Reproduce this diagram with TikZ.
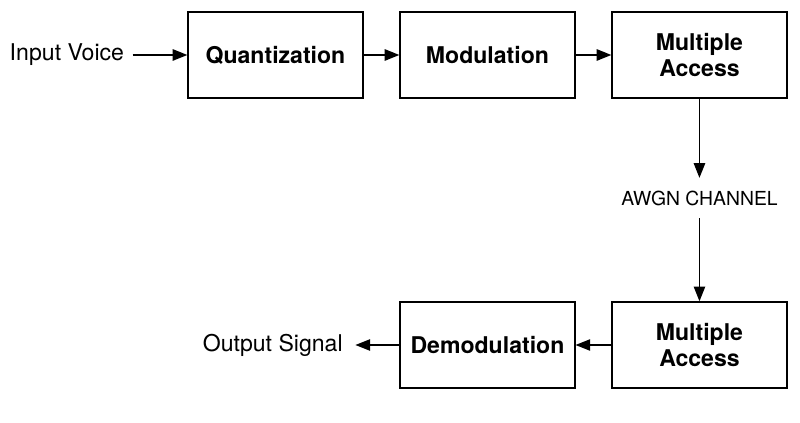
\documentclass[tikz,border=0pt]{standalone}
\usepackage{fontspec}
\setmainfont{TeX Gyre Heros}
\usetikzlibrary{positioning,arrows.meta}

\begin{document}
\begin{tikzpicture}[->,>={Triangle[length=11pt,width=8.5pt]},line width=1.1pt,node distance=159pt,
        block/.style={draw,minimum width=131pt,minimum height=64.5pt,align=center,
            font=\fontsize{17.3}{20}\selectfont\bfseries},
        txt/.style={inner sep=0pt,font=\fontsize{17.3}{20}\selectfont}]
        \useasboundingbox (-206.6pt,41.25pt) rectangle (393.4pt,-276pt);

        \node[block] (quant) {Quantization};
        \node[block] (mod) [right of=quant] {Modulation};
        \node[block] (ma1) [right of=mod] {Multiple\\Access};
        \node[block] (ma2) [below of=ma1,yshift=-58.5pt] {Multiple\\Access};
        \node[block] (demod) [left of=ma2] {Demodulation};
        \node[txt] (in) [left=47pt of quant] {Input Voice};
        \node[txt] (out) [left=42pt of demod] {Output Signal};
        \node[txt,inner sep=9pt,font=\fontsize{14.5}{16}\selectfont] (awgn) [node distance=107.25pt,below of=ma1] {AWGN CHANNEL};

        \path (in) edge[shorten <=6pt] (quant)
              (quant) edge (mod)
              (mod) edge (ma1)
              (ma1) edge (awgn)
              (awgn) edge (ma2)
              (ma2) edge (demod)
              (demod) edge[shorten >=9pt] (out);
    \end{tikzpicture}
\end{document}
